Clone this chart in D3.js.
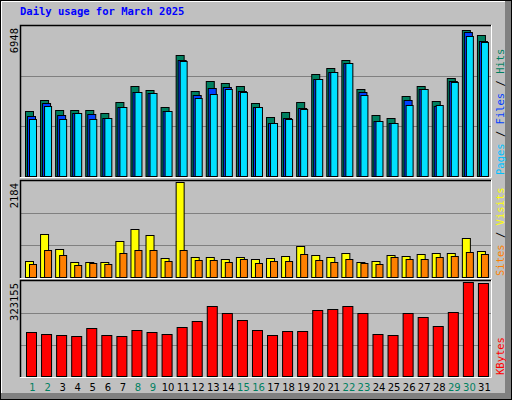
<!DOCTYPE html>
<html><head><meta charset="utf-8">
<script src="https://cdn.jsdelivr.net/npm/d3@7"></script>
<style>body{margin:0;background:#fff}svg{display:block}</style>
</head><body><div id="c"></div>
<script>
const days = d3.range(1, 32).map(String);
const weekendDays = ["1","2","8","9","15","16","22","23","29","30"];
const hits = [3027,3531,3073,3073,3073,2935,3440,4173,3990,3210,5641,3944,4403,4311,4173,3394,2752,2981,3440,4724,4999,5411,4036,2843,2706,3715,4173,3485,4540,6787,6558];
const files = [2797,3394,2843,2935,2889,2706,3210,3898,3852,3027,5411,3761,4082,4127,3944,3210,2476,2706,3164,4494,4815,5274,3898,2568,2476,3531,4036,3256,4403,6696,6283];
const pages = [2660,3256,2660,2935,2660,2706,3210,3898,3852,3027,5366,3623,3806,4036,3898,3210,2476,2660,3118,4494,4815,5274,3761,2568,2476,3302,4036,3302,4357,6512,6237];
const sites = [363,981,648,339,339,339,814,1099,957,434,2184,458,458,411,458,411,434,482,719,506,458,553,339,363,506,482,529,553,553,886,601];
const visits = [292,624,506,268,316,292,553,624,624,363,624,387,387,339,411,316,363,363,529,387,339,411,316,292,458,411,411,458,482,577,529];
const kbytes = [149238,142187,138662,135137,163339,138662,135137,156288,149238,142187,166864,188016,240896,216218,191541,156288,138662,152763,152763,226794,230320,240896,216218,142187,138662,216218,202117,170390,219744,323155,318454];
const maxHits = 6948, maxSites = 2184, maxKB = 323155;

const W=512,H=400;
const svg=d3.select("#c").append("svg").attr("width",W).attr("height",H);
svg.append("rect").attr("width",W).attr("height",H).attr("fill","#c0c0c0");
// outer bevel
svg.append("rect").attr("x",0.5).attr("y",0.5).attr("width",W-1).attr("height",H-1).attr("fill","none").attr("stroke","#000");
svg.append("path").attr("d","M1.5,398V1.5H510").attr("stroke","#fff").attr("fill","none");
svg.append("rect").attr("x",505).attr("y",1).attr("width",6).attr("height",398).attr("fill","#808080");
svg.append("rect").attr("x",1).attr("y",393).attr("width",510).attr("height",6).attr("fill","#808080");

svg.append("text").attr("x",20).attr("y",15).text("Daily usage for March 2025")
  .attr("font-family","DejaVu Sans Mono").attr("font-weight","bold").attr("font-size",10.5).attr("fill","#0000ff");

const x=d3.scaleBand().domain(days).range([24,491]).paddingInner(0);
const L=20,R=491;

function panel(y0,y1,max,label,labelParts){
  svg.append("rect").attr("x",L).attr("y",y0).attr("width",R-L).attr("height",y1-y0).attr("fill","#c0c0c0");
  const top=y0+1.5, bot=y1-1;
  const y=d3.scaleLinear().domain([0,max]).range([bot,top]);
  [1/3,2/3].forEach(f=>svg.append("line").attr("x1",L).attr("x2",R).attr("y1",Math.round(y(max*f))+0.5).attr("y2",Math.round(y(max*f))+0.5).attr("stroke","#808080"));
  svg.append("path").attr("d",`M${L+0.5},${y1}V${y0+0.5}H${R}`).attr("stroke","#000").attr("stroke-width",1.5).attr("fill","none");
  svg.append("path").attr("d",`M${R+0.5},${y0}V${y1+0.5}H${L}`).attr("stroke","#fff").attr("fill","none");
  svg.append("text").attr("transform",`translate(18,${y0+3}) rotate(-90)`).attr("text-anchor","end")
    .attr("font-family","DejaVu Sans Mono").attr("font-size",10.5).attr("fill","#000").text(label);
  const t=svg.append("text").attr("transform",`translate(504,${y1-2}) rotate(-90)`)
    .attr("font-family","DejaVu Sans Mono").attr("font-size",10.5);
  labelParts.forEach(p=>t.append("tspan").attr("fill",p[1]).text(p[0]));
  return y;
}
function bars(y,data,off,w,color){
  svg.append("g").selectAll("rect").data(data).join("rect")
    .attr("x",(d,i)=>x(days[i])+off+0.5).attr("width",w)
    .attr("y",d=>Math.round(y(d))+0.5).attr("height",d=>Math.max(0,y(0)-Math.round(y(d))))
    .attr("fill",color).attr("stroke","#000").attr("stroke-width",1);
}
const y1=panel(25,177,maxHits,"6948",[["Pages","#00c0ff"],[" / ","#000"],["Files","#0040ff"],[" / ","#000"],["Hits","#008060"]]);
bars(y1,hits,1,8,"#008060");
bars(y1,files,3,8,"#0040ff");
bars(y1,pages,5,7,"#00e0ff");
const y2=panel(180,278,maxSites,"2184",[["Sites","#ff8000"],[" / ","#000"],["Visits","#ffff00"]]);
bars(y2,sites,1,8,"#ffff00");
bars(y2,visits,5,7,"#ff8000");
const y3=panel(280,377,maxKB,"323155",[["KBytes","#ff0000"]]);
bars(y3,kbytes,2,10,"#ff0000");

svg.append("g").selectAll("text").data(days).join("text")
  .attr("x",d=>x(d)+x.bandwidth()/2+1).attr("y",391).attr("text-anchor","middle")
  .attr("font-family","DejaVu Sans").attr("font-size",10)
  .attr("fill",d=>weekendDays.includes(d)?"#008060":"#000").text(d=>d);
</script></body></html>
